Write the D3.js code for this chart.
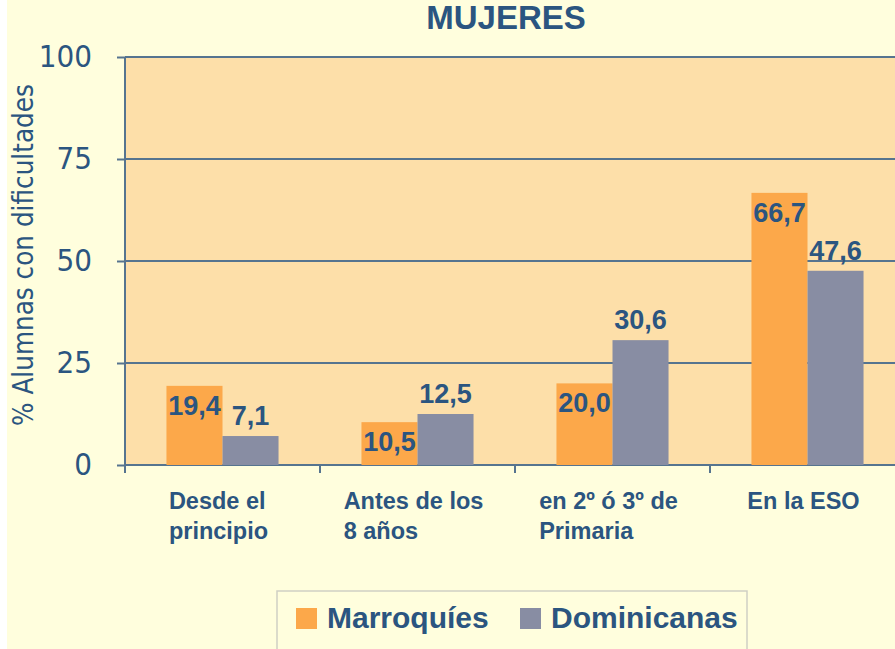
<!DOCTYPE html>
<meta charset="utf-8">
<html>
<head>
    <title>mujeres</title>
    <script src="https://cdn.jsdelivr.net/npm/d3@7"></script>
    <style>
        body { margin: 0; background: #ffffff; }
        .axis text { font-family: "DejaVu Sans Condensed", "DejaVu Sans", sans-serif; }
    </style>
</head>
<body>
    <div id="chart"></div>
    <script>
        // data
        var categories = ["Desde el principio", "Antes de los 8 años", "en 2º ó 3º de Primaria", "En la ESO"];
        var categoryLines = [["Desde el", "principio"], ["Antes de los", "8 años"], ["en 2º ó 3º de", "Primaria"], ["En la ESO"]];
        var seriesNames = ["Marroquíes", "Dominicanas"];
        var marroquies = [19.4, 10.5, 20.0, 66.7];
        var dominicanas = [7.1, 12.5, 30.6, 47.6];
        var yTicks = [0, 25, 50, 75, 100];

        var W = 895, H = 649;
        var textColor = "#2b5580";
        var gridColor = "#56748f";
        var colors = {"Marroquíes": "#fca84a", "Dominicanas": "#888da3"};

        var svg = d3.select("#chart").append("svg")
            .attr("width", W)
            .attr("height", H);

        svg.append("rect")
            .attr("x", 7).attr("y", 0)
            .attr("width", W - 7).attr("height", H)
            .attr("fill", "#fffedd");

        var x = d3.scaleBand()
            .domain(categories)
            .range([125, 905])
            .padding(0);

        var xSub = d3.scaleBand()
            .domain(seriesNames)
            .range([0, x.bandwidth()])
            .paddingInner(0)
            .paddingOuter(0.74);

        var y = d3.scaleLinear()
            .domain([0, 100])
            .range([465, 57]);

        // plot area
        svg.append("rect")
            .attr("x", x.range()[0])
            .attr("y", y(100))
            .attr("width", x.range()[1] - x.range()[0])
            .attr("height", y(0) - y(100))
            .attr("fill", "#fddfa9");

        // gridlines
        svg.append("g")
            .selectAll("line")
            .data(yTicks).enter()
            .append("line")
            .attr("x1", x.range()[0])
            .attr("x2", x.range()[1])
            .attr("y1", function(d){ return y(d); })
            .attr("y2", function(d){ return y(d); })
            .attr("stroke", gridColor)
            .attr("stroke-width", 2);

        // bars
        var rows = categories.map(function(c, i){
            return [{cat: c, s: "Marroquíes", v: marroquies[i]},
                    {cat: c, s: "Dominicanas", v: dominicanas[i]}];
        });
        var flat = [].concat.apply([], rows);

        svg.append("g")
            .selectAll("rect")
            .data(flat).enter()
            .append("rect")
            .attr("x", function(d){ return x(d.cat) + xSub(d.s); })
            .attr("y", function(d){ return y(d.v); })
            .attr("width", xSub.bandwidth())
            .attr("height", function(d){ return y(0) - y(d.v); })
            .attr("fill", function(d){ return colors[d.s]; });

        // value labels
        svg.append("g")
            .selectAll("text")
            .data(flat).enter()
            .append("text")
            .attr("x", function(d){ return x(d.cat) + xSub(d.s) + xSub.bandwidth() / 2; })
            .attr("y", function(d){
                return d.s == "Marroquíes" ? y(d.v) + 29 : y(d.v) - 11;
            })
            .attr("text-anchor", "middle")
            .attr("font-family", "'Liberation Sans', Arial, sans-serif")
            .attr("font-weight", "bold")
            .attr("font-size", "27px")
            .attr("fill", textColor)
            .text(function(d){ return d.v.toFixed(1).replace(".", ","); });

        // y axis
        var yAxis = d3.axisLeft(y).tickValues(yTicks).tickSize(8).tickPadding(25);
        var gy = svg.append("g").attr("class", "axis")
            .attr("transform", "translate(" + x.range()[0] + ",0)")
            .call(yAxis);
        gy.select(".domain").remove();
        gy.selectAll("line").attr("stroke", gridColor).attr("stroke-width", 2);
        gy.selectAll("text")
            .attr("font-size", "31px")
            .attr("fill", textColor);
        svg.append("line")
            .attr("x1", x.range()[0]).attr("x2", x.range()[0])
            .attr("y1", y(100)).attr("y2", y(0) + 8)
            .attr("stroke", gridColor).attr("stroke-width", 2);

        // x axis ticks at band edges
        var edges = categories.map(function(c){ return x(c); }).concat([x.range()[1]]);
        svg.append("g")
            .selectAll("line")
            .data(edges).enter()
            .append("line")
            .attr("x1", function(d){ return d; })
            .attr("x2", function(d){ return d; })
            .attr("y1", y(0))
            .attr("y2", y(0) + 8)
            .attr("stroke", gridColor)
            .attr("stroke-width", 2);

        // category labels
        var catG = svg.append("g")
            .selectAll("g")
            .data(categories).enter()
            .append("g");
        var catText = catG.append("text")
            .attr("font-family", "'Liberation Sans', Arial, sans-serif")
            .attr("font-weight", "bold")
            .attr("font-size", "23.5px")
            .attr("fill", textColor);
        catText.selectAll("tspan")
            .data(function(d, i){ return categoryLines[i]; }).enter()
            .append("tspan")
            .attr("x", 0)
            .attr("y", function(d, i){ return 509 + i * 30; })
            .text(function(d){ return d; });
        catG.attr("transform", function(d){
            var w = this.getBBox().width;
            return "translate(" + (x(d) + x.bandwidth() / 2 - w / 2 - 4) + ",0)";
        });

        // y label
        svg.append("text")
            .attr("transform", "translate(33,255) rotate(-90)")
            .attr("text-anchor", "middle")
            .attr("font-family", "'DejaVu Sans Condensed', 'DejaVu Sans', sans-serif")
            .attr("font-size", "27.5px")
            .attr("fill", textColor)
            .text("% Alumnas con dificultades");

        // title
        svg.append("text")
            .attr("x", 506)
            .attr("y", 29)
            .attr("text-anchor", "middle")
            .attr("font-family", "'Liberation Sans', Arial, sans-serif")
            .attr("font-weight", "bold")
            .attr("font-size", "33px")
            .attr("fill", textColor)
            .text("MUJERES");

        // legend
        svg.append("rect")
            .attr("x", 277).attr("y", 591)
            .attr("width", 470).attr("height", 80)
            .attr("fill", "none")
            .attr("stroke", "#cfcfc4")
            .attr("stroke-width", 1.5);
        var legendX = [296, 520];
        var lg = svg.append("g")
            .selectAll("g")
            .data(seriesNames).enter()
            .append("g")
            .attr("transform", function(d, i){ return "translate(" + legendX[i] + ",608)"; });
        lg.append("rect")
            .attr("width", 21).attr("height", 21)
            .attr("fill", function(d){ return colors[d]; });
        lg.append("text")
            .attr("x", 31)
            .attr("y", 20)
            .attr("font-family", "'Liberation Sans', Arial, sans-serif")
            .attr("font-weight", "bold")
            .attr("font-size", "30px")
            .attr("fill", textColor)
            .text(function(d){ return d; });
    </script>
</body>
</html>
